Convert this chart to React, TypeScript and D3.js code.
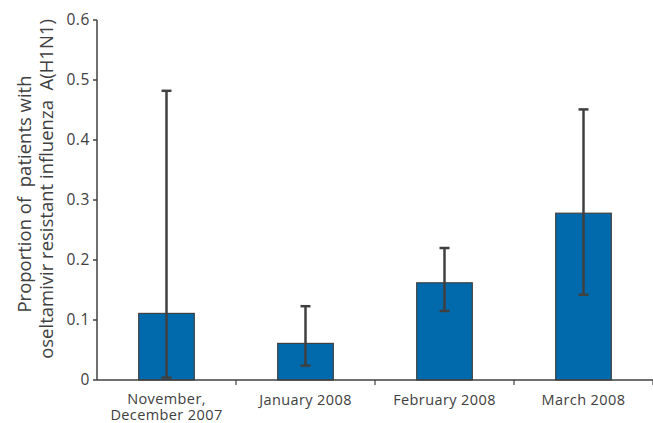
import React from "react";
import * as d3 from "d3";

// Monthly proportion of oseltamivir-resistant A(H1N1) with 95% confidence limits
const categories: string[][] = [
  ["November,", "December 2007"],
  ["January 2008"],
  ["February 2008"],
  ["March 2008"],
];
const proportions: number[] = [0.111, 0.061, 0.162, 0.278];
const lowerLimits: number[] = [0.004, 0.024, 0.115, 0.142];
const upperLimits: number[] = [0.482, 0.123, 0.22, 0.451];
const yTicks: number[] = [0, 0.1, 0.2, 0.3, 0.4, 0.5, 0.6];
const yTitle: string[] = ["Proportion of\u00a0 patients with", "oseltamivir resistant influenza\u00a0 A(H1N1)"];

const W = 653;
const H = 423;
const margin = { left: 97, right: 0, top: 20, bottom: 43 };

const ink = "#404040";
const barFill = "#006aad";
const font = "'Open Sans', 'Noto Sans', sans-serif";

export default function App() {
  const keys = categories.map((c) => c.join(" "));
  const x = d3
    .scaleBand<string>()
    .domain(keys)
    .range([margin.left, W - margin.right])
    .paddingInner(0.6)
    .paddingOuter(0.3);
  const band = d3.scaleBand<string>().domain(keys).range([margin.left, W - margin.right]);
  const y = d3.scaleLinear().domain([0, 0.6]).range([H - margin.bottom, margin.top]);
  const y0 = y(0);
  const capHalf = 5;

  return (
    <svg
      width={W}
      height={H}
      style={{ position: "absolute", left: 0, top: 0, background: "#fff" }}
      fontFamily={font}
    >
      {/* bars */}
      {keys.map((k, i) => (
        <rect
          key={k}
          x={x(k)!}
          y={y(proportions[i])}
          width={x.bandwidth()}
          height={y0 - y(proportions[i])}
          fill={barFill}
          stroke={ink}
          strokeWidth={1.2}
        />
      ))}
      {/* confidence intervals */}
      {keys.map((k, i) => {
        const cx = x(k)! + x.bandwidth() / 2;
        return (
          <g key={k} stroke={ink} strokeWidth={2.5}>
            <line x1={cx} x2={cx} y1={y(lowerLimits[i])} y2={y(upperLimits[i])} />
            <line x1={cx - capHalf} x2={cx + capHalf} y1={y(upperLimits[i])} y2={y(upperLimits[i])} />
            <line x1={cx - capHalf} x2={cx + capHalf} y1={y(lowerLimits[i])} y2={y(lowerLimits[i])} />
          </g>
        );
      })}
      {/* y axis */}
      <line x1={margin.left} x2={margin.left} y1={y(0.6)} y2={y0} stroke={ink} strokeWidth={1.5} />
      {yTicks.map((t) => (
        <g key={t} transform={`translate(0,${y(t)})`}>
          <line x1={margin.left - 4} x2={margin.left} stroke={ink} strokeWidth={1.5} />
          <text x={margin.left - 7} dy="0.3em" textAnchor="end" fontSize={15.5} letterSpacing={0.6} fill={ink}>
            {t === 0 ? "0" : d3.format(".1f")(t)}
          </text>
        </g>
      ))}
      {/* x axis */}
      <line x1={margin.left} x2={W - margin.right} y1={y0} y2={y0} stroke={ink} strokeWidth={1.5} />
      {keys.map((k) => (
        <line
          key={k}
          x1={band(k)! + band.bandwidth()}
          x2={band(k)! + band.bandwidth()}
          y1={y0}
          y2={y0 + 5}
          stroke={ink}
          strokeWidth={1.2}
        />
      ))}
      {categories.map((lines, i) => (
        <text
          key={keys[i]}
          x={x(keys[i])! + x.bandwidth() / 2}
          y={lines.length > 1 ? 404 : 405}
          textAnchor="middle"
          fontSize={14.5}
          letterSpacing={0.4}
          fill={ink}
        >
          {lines.map((ln, j) => (
            <tspan key={j} x={x(keys[i])! + x.bandwidth() / 2} dy={j === 0 ? 0 : 16}>
              {ln}
            </tspan>
          ))}
        </text>
      ))}
      {/* y axis title */}
      <text transform="translate(31,191) rotate(-90)" textAnchor="middle" fontSize={18.5} fill={ink}>
        <tspan x={-3} dy={0}>{yTitle[0]}</tspan>
        <tspan x={2} dy={22}>{yTitle[1]}</tspan>
      </text>
    </svg>
  );
}
